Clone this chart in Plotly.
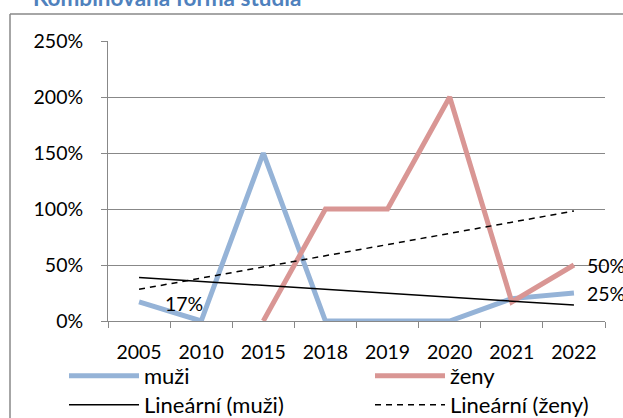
import numpy as np
import plotly.graph_objects as go

# Study years and success rates (fractions) for the combined form of study
years = ["2005", "2010", "2015", "2018", "2019", "2020", "2021", "2022"]
muzi = [0.17, 0.0, 1.5, 0.0, 0.0, 0.0, 0.20, 0.25]
zeny = [None, None, 0.0, 1.0, 1.0, 2.0, 0.17, 0.50]

# Linear trend for ženy, values at first and last year
zeny_trend_ends = [0.283, 0.982]

# Points that carry a value label (index into years)
labelled_muzi = [0, 7]
labelled_zeny = [7]

W, H = 623, 418
L, R, T, B = 108, 18, 41, 97
PW, PH = W - L - R, H - T - B

FONT = "Lato"
FS = 19.5
FS_LEG = 22
BLUE = "#95B3D7"
PINK = "#D99694"
GRID = "#888888"


def px_x(px):
    return (px - L) / PW


def px_y(py):
    return (H - B - py) / PH


# linear fit for muži over category positions 1..n
xi = np.arange(1, len(years) + 1)
slope, intercept = np.polyfit(xi, np.array(muzi, dtype=float), 1)
muzi_trend = [intercept + slope * xi[0], intercept + slope * xi[-1]]

fig = go.Figure()

fig.add_trace(go.Scatter(
    x=years, y=muzi, mode="lines", name="muži",
    line=dict(color=BLUE, width=5), legend="legend",
))
fig.add_trace(go.Scatter(
    x=years, y=zeny, mode="lines", name="ženy",
    line=dict(color=PINK, width=5), connectgaps=False, legend="legend2",
))
fig.add_trace(go.Scatter(
    x=[years[0], years[-1]], y=muzi_trend, mode="lines", name="Lineární (muži)",
    line=dict(color="black", width=1.5), legend="legend3",
))
fig.add_trace(go.Scatter(
    x=[years[0], years[-1]], y=zeny_trend_ends, mode="lines", name="Lineární (ženy)",
    line=dict(color="black", width=1.5, dash="6px,5px"), legend="legend4",
))

annotations = []
for i in labelled_muzi:
    annotations.append(dict(
        x=i, y=muzi[i], xref="x", yref="y",
        text=f"{round(muzi[i] * 100):.0f}%", showarrow=False,
        xanchor="left", yanchor="middle", xshift=24 if i == 0 else 11,
        yshift=-2 if i == 0 else 0,
        font=dict(family=FONT, size=FS, color="black"),
    ))
for i in labelled_zeny:
    annotations.append(dict(
        x=i, y=zeny[i], xref="x", yref="y",
        text=f"{round(zeny[i] * 100):.0f}%", showarrow=False,
        xanchor="left", yanchor="middle", xshift=11,
        font=dict(family=FONT, size=FS, color="black"),
    ))

# chart title
annotations.append(dict(
    x=px_x(31), y=px_y(13), xref="paper", yref="paper",
    text="<b>Kombinovaná forma studia</b>", showarrow=False,
    xanchor="left", yanchor="bottom",
    font=dict(family=FONT, size=22.5, color="#4F81BD"),
))

legend_common = dict(
    orientation="v", yanchor="top", xanchor="left",
    font=dict(family=FONT, size=FS_LEG, color="black"),
    bgcolor="rgba(0,0,0,0)", borderwidth=0, itemwidth=70,
)

# chart-area frame: left and top edges
frame = [
    dict(type="line", xref="paper", yref="paper",
         x0=px_x(10), y0=px_y(14), x1=px_x(10), y1=px_y(H + 5),
         line=dict(color=GRID, width=1.5)),
    dict(type="line", xref="paper", yref="paper",
         x0=px_x(10), y0=px_y(14), x1=px_x(W + 5), y1=px_y(14),
         line=dict(color=GRID, width=1.5)),
]

ROW1, ROW2 = 355, 384
COL1, COL2 = 64, 370

fig.update_layout(
    width=W, height=H,
    margin=dict(l=L, r=R, t=T, b=B, pad=0, autoexpand=False),
    paper_bgcolor="white", plot_bgcolor="white",
    font=dict(family=FONT, size=FS, color="black"),
    showlegend=True,
    legend=dict(x=px_x(COL1), y=px_y(ROW1), **legend_common),
    legend2=dict(x=px_x(COL2), y=px_y(ROW1), **legend_common),
    legend3=dict(x=px_x(COL1), y=px_y(ROW2), **legend_common),
    legend4=dict(x=px_x(COL2), y=px_y(ROW2), **legend_common),
    annotations=annotations,
    shapes=frame,
)

fig.update_xaxes(
    type="category", categoryorder="array", categoryarray=years,
    range=[-0.5, len(years) - 0.5],
    showgrid=False, showline=True, linecolor=GRID, linewidth=1,
    ticks="outside", tickson="boundaries", ticklen=6, tickcolor=GRID, tickwidth=1,
    tickfont=dict(family=FONT, size=FS, color="black"),
    ticklabelstandoff=14, zeroline=False,
)
fig.update_yaxes(
    range=[0, 2.5], dtick=0.5, tickformat=".0%",
    showgrid=True, gridcolor=GRID, gridwidth=1,
    showline=True, linecolor=GRID, linewidth=1,
    ticks="outside", ticklen=6, tickcolor=GRID, tickwidth=1,
    tickfont=dict(family=FONT, size=FS, color="black"),
    ticklabelstandoff=14, zeroline=False,
)

fig.write_html("out.html")
